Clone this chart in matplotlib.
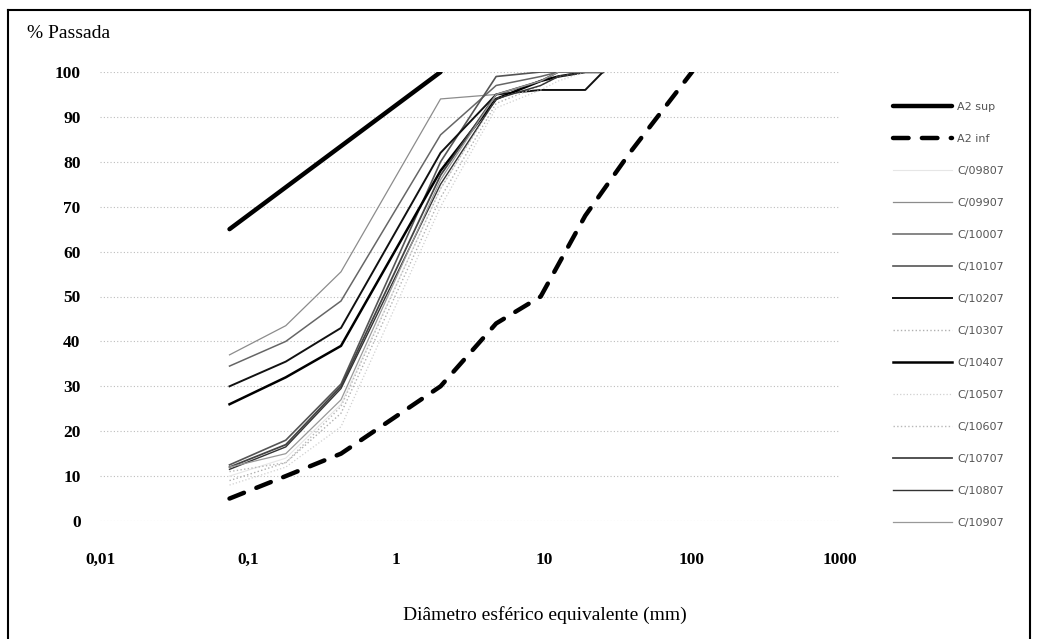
import matplotlib
matplotlib.use('Agg')
import matplotlib.pyplot as plt
import matplotlib.ticker as ticker
from matplotlib.lines import Line2D

# sieve openings (mm)
sieves = [0.075, 0.18, 0.425, 2.0, 4.75, 9.5, 12.5, 19.0, 25.0]

# envelope of the A2 band
a2_sup_x = [0.075, 2.0]
a2_sup = [65, 100]
a2_inf_x = [0.075, 0.18, 0.425, 2.0, 4.75, 9.5, 19.0, 38.0, 100.0]
a2_inf = [5, 10, 15, 30, 44, 50, 68, 82, 100]

# samples, % passing at each sieve
c09807 = [10, 14, 26, 74, 94, 97, 99, 100, 100]
c09907 = [37, 43.5, 55.5, 94, 95, 98, 100, 100, 100]
c10007 = [34.5, 40, 49, 86, 97, 99, 100, 100, 100]
c10107 = [12.5, 18, 30.5, 80, 99, 100, 100, 100, 100]
c10207 = [30, 35.5, 43, 82, 95, 96, 96, 96, 100]
c10307 = [9, 13, 24, 72, 93, 97, 99, 100, 100]
c10407 = [26, 32, 39, 78, 94, 98, 99, 100, 100]
c10507 = [8, 12, 21, 70, 92, 96, 98, 100, 100]
c10607 = [11, 13, 25.5, 74, 94, 97, 99, 100, 100]
c10707 = [12, 17, 30, 77, 95, 98, 100, 100, 100]
c10807 = [11.5, 16.5, 29.5, 75, 94, 97, 99, 100, 100]
c10907 = [12, 15, 27, 76, 95, 98, 100, 100, 100]

samples = [
    ('C/09807', c09807, '#e6e6e6', 0.8, '-'),
    ('C/09907', c09907, '#8c8c8c', 0.9, '-'),
    ('C/10007', c10007, '#666666', 1.1, '-'),
    ('C/10107', c10107, '#555555', 1.2, '-'),
    ('C/10207', c10207, '#111111', 1.4, '-'),
    ('C/10307', c10307, '#b0b0b0', 1.0, ':'),
    ('C/10407', c10407, '#000000', 1.8, '-'),
    ('C/10507', c10507, '#d0d0d0', 0.9, ':'),
    ('C/10607', c10607, '#b8b8b8', 1.0, ':'),
    ('C/10707', c10707, '#444444', 1.3, '-'),
    ('C/10807', c10807, '#333333', 1.0, '-'),
    ('C/10907', c10907, '#999999', 0.9, '-'),
]

xticks = [0.01, 0.1, 1, 10, 100, 1000]
xtick_labels = ['0,01', '0,1', '1', '10', '100', '1000']
yticks = list(range(0, 101, 10))

W, H = 1037, 639
fig = plt.figure(figsize=(W / 100, H / 100), dpi=100)
ax = fig.add_axes([100 / W, 1 - 521 / H, 740 / W, 449 / H])

ax.plot(a2_sup_x, a2_sup, color='black', lw=3.2, solid_capstyle='round', label='A2 sup', zorder=5)
ax.plot(a2_inf_x, a2_inf, color='black', lw=3.2, dashes=(3.5, 3), dash_capstyle='round', label='A2 inf', zorder=5)
for name, vals, col, lw, ls in samples:
    ax.plot(sieves, vals, color=col, lw=lw, ls=ls, label=name, zorder=3)

ax.set_xscale('log')
ax.set_xlim(0.01, 1000)
ax.set_ylim(0, 100)
ax.xaxis.set_major_locator(ticker.FixedLocator(xticks))
ax.xaxis.set_major_formatter(ticker.FixedFormatter(xtick_labels))
ax.xaxis.set_minor_locator(ticker.NullLocator())
ax.set_yticks(yticks)

serif = 'Liberation Serif'
for lab in ax.get_xticklabels() + ax.get_yticklabels():
    lab.set_fontfamily(serif)
    lab.set_fontweight('bold')
    lab.set_fontsize(12.5)
ax.tick_params(axis='both', length=0)
ax.tick_params(axis='y', pad=14)
ax.tick_params(axis='x', pad=22)

ax.grid(axis='y', color='#bdbdbd', lw=0.8, ls=(0, (1, 2)))
ax.set_axisbelow(True)
for s in ax.spines.values():
    s.set_visible(False)

fig.text(27 / W, 1 - 33 / H, '% Passada', family=serif, fontsize=14, va='center', ha='left')
fig.text(545 / W, 1 - 615 / H, 'Diâmetro esférico equivalente (mm)', family=serif, fontsize=14,
         va='center', ha='center')

handles, labels = ax.get_legend_handles_labels()
leg = fig.legend(handles, labels, loc='upper left', bbox_to_anchor=(893 / W, 1 - 102 / H),
                 frameon=False, fontsize=8, handlelength=5.3, handletextpad=0.45,
                 labelspacing=1.98, borderpad=0, borderaxespad=0)
for t in leg.get_texts():
    t.set_color('#555555')

# chart border
fig.add_artist(Line2D([8 / W, 8 / W], [0, 1 - 10 / H], color='black', lw=1.5))
fig.add_artist(Line2D([8 / W, 1030 / W], [1 - 10 / H, 1 - 10 / H], color='black', lw=1.5))
fig.add_artist(Line2D([1030 / W, 1030 / W], [0, 1 - 10 / H], color='black', lw=1.5))

fig.savefig('out.png', dpi=100)
